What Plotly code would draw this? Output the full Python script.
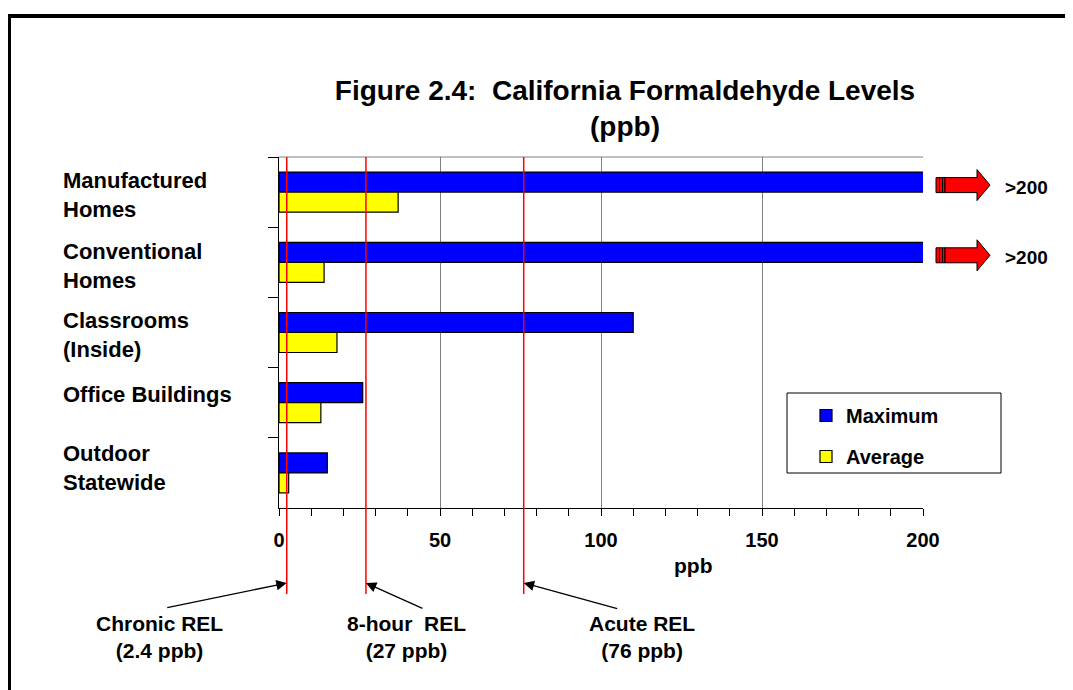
import plotly.graph_objects as go

categories = ['Manufactured Homes', 'Conventional Homes', 'Classrooms (Inside)',
              'Office Buildings', 'Outdoor Statewide']
labels = ['Manufactured<br>Homes', 'Conventional<br>Homes', 'Classrooms<br>(Inside)',
          'Office Buildings', 'Outdoor<br>Statewide']
maximum = [201.5, 201.5, 110, 26, 15]
average = [37, 14, 18, 13, 3]
off_scale = ['>200', '>200', None, None, None]

rel_names = ['Chronic REL<br>(2.4 ppb)', '8-hour  REL<br>(27 ppb)', 'Acute REL<br>(76 ppb)']
rel_values = [2.4, 27, 76]
x_ticks = [0, 50, 100, 150, 200]

FONT = 'Liberation Sans, Arial, sans-serif'
W, H = 1073, 690
PAGE = 8  # body margin of the html page
# plot area in page pixels
X0, X1, Y0, Y1 = 279, 923, 157, 508
PW, PH = X1 - X0, Y1 - Y0
BAND = PH / len(categories)


def px(x):
    return (x - X0) / PW


def py(y):
    return (Y1 - y) / PH


def block_arrow(i):
    # red block arrow with a striped tail, right of a clipped bar
    cy = i - 7 / BAND
    d = lambda p: p / BAND
    body = (f'M {px(945)} {cy - d(7.5)} L {px(977)} {cy - d(7.5)} L {px(977)} {cy - d(15.5)} '
            f'L {px(990)} {cy} L {px(977)} {cy + d(15.5)} L {px(977)} {cy + d(7.5)} '
            f'L {px(945)} {cy + d(7.5)} Z')
    tail = (f'M {px(936)} {cy - d(7.5)} L {px(945)} {cy - d(7.5)} L {px(945)} {cy + d(7.5)} '
            f'L {px(936)} {cy + d(7.5)} Z')
    out = []
    for p in (tail, body):
        out.append(dict(type='path', path=p, xref='paper', yref='y', fillcolor='#ff0000',
                        line=dict(color='black', width=1), layer='above'))
    for xs in (939.5, 942.5):
        out.append(dict(type='line', xref='paper', yref='y', x0=px(xs), x1=px(xs),
                        y0=cy - d(7.5), y1=cy + d(7.5), line=dict(color='black', width=1),
                        layer='above'))
    return out


traces = [
    go.Bar(y=categories, x=maximum, orientation='h', name='Maximum', legendgroup='a',
           marker=dict(color='#0000ff', line=dict(color='black', width=1.2)),
           cliponaxis=False),
    go.Bar(y=categories, x=average, orientation='h', name='Average', legendgroup='b',
           marker=dict(color='#ffff00', line=dict(color='black', width=1.2)),
           cliponaxis=False),
]

shapes = [
    # outer frame
    dict(type='rect', xref='paper', yref='paper', x0=px(9), x1=px(1090), y0=py(705), y1=py(16),
         line=dict(color='black', width=4), layer='below'),
    # top border of plot area
    dict(type='line', xref='paper', yref='paper', x0=0, x1=1, y0=1, y1=1,
         line=dict(color='#808080', width=1), layer='below'),
    # legend box
    dict(type='rect', xref='paper', yref='paper', x0=px(787), x1=px(1001), y0=py(473), y1=py(393),
         fillcolor='white', line=dict(color='black', width=1), layer='above'),
]
for v in rel_values:
    shapes.append(dict(type='line', xref='x', yref='paper', x0=v, x1=v, y0=py(594), y1=1,
                       line=dict(color='#ff0000', width=1.5), layer='above'))
for i, s in enumerate(off_scale):
    if s:
        shapes += block_arrow(i)

annotations = []
label_shift = [-3, -4, -2, 8, 5]
for c, lab, sh in zip(categories, labels, label_shift):
    annotations.append(dict(x=px(61), xref='paper', y=c, yref='y', text=lab, showarrow=False,
                            xanchor='left', yanchor='middle', align='left', yshift=sh,
                            font=dict(family=FONT, size=22, color='black', weight='bold')))
for i, s in enumerate(off_scale):
    if s:
        annotations.append(dict(x=px(1003), xref='paper', y=i - 5 / BAND, yref='y', text=s,
                                showarrow=False, xanchor='left', yanchor='middle',
                                font=dict(family=FONT, size=19, color='black', weight='bold')))

text_shift = [-127, 41, 118]
tails = [(-121, 25), (58, 26), (95, 26)]
for name, v, xs, (ax, ay) in zip(rel_names, rel_values, text_shift, tails):
    annotations.append(dict(x=v, xref='x', y=py(637), yref='paper', text=name, showarrow=False,
                            xshift=xs, xanchor='center', yanchor='middle',
                            font=dict(family=FONT, size=21, color='black', weight='bold')))
    annotations.append(dict(x=v, xref='x', y=py(583), yref='paper', text='', showarrow=True,
                            ax=ax, ay=ay, arrowhead=2, arrowsize=1.6, arrowwidth=1.3,
                            arrowcolor='black'))

annotations.append(dict(x=px(693), xref='paper', y=py(565), yref='paper', text='ppb',
                        showarrow=False, xanchor='center', yanchor='middle',
                        font=dict(family=FONT, size=21, color='black', weight='bold')))

fig = go.Figure(
    data=traces,
    layout=go.Layout(
        width=W,
        height=H,
        autosize=False,
        margin=dict(l=X0 - PAGE, r=W - (X1 - PAGE), t=Y0 - PAGE, b=H - (Y1 - PAGE),
                    autoexpand=False),
        paper_bgcolor='white',
        plot_bgcolor='white',
        font=dict(family=FONT, color='black'),
        title=dict(
            text='Figure 2.4:  California Formaldehyde Levels<br>(ppb)',
            x=px(625), xref='paper', xanchor='center',
            y=1 - 91.5 / H, yref='container', yanchor='middle',
            font=dict(family=FONT, size=28, color='black', weight='bold'),
        ),
        barmode='group',
        bargap=0.43,
        bargroupgap=0,
        xaxis=dict(
            range=[0, 200],
            tickvals=x_ticks,
            ticks='outside',
            ticklen=7,
            tickcolor='black',
            ticklabelstandoff=7,
            tickfont=dict(family=FONT, size=20, color='black', weight='bold'),
            showline=True,
            linecolor='black',
            linewidth=1,
            showgrid=True,
            gridcolor='#808080',
            gridwidth=1,
            zeroline=False,
            minor=dict(dtick=10, ticks='outside', ticklen=7, tickcolor='black', showgrid=False),
            fixedrange=True,
        ),
        yaxis=dict(
            autorange='reversed',
            showticklabels=False,
            ticks='outside',
            tickson='boundaries',
            ticklen=10,
            tickcolor='black',
            showline=True,
            linecolor='black',
            linewidth=1,
            showgrid=False,
            fixedrange=True,
        ),
        legend=dict(
            x=px(806), xanchor='left',
            y=py(396), yanchor='top',
            bgcolor='rgba(0,0,0,0)',
            borderwidth=0,
            traceorder='grouped',
            tracegroupgap=12,
            font=dict(family=FONT, size=20, color='black', weight='bold'),
        ),
        shapes=shapes,
        annotations=annotations,
    )
)

fig.write_html('out.html')
